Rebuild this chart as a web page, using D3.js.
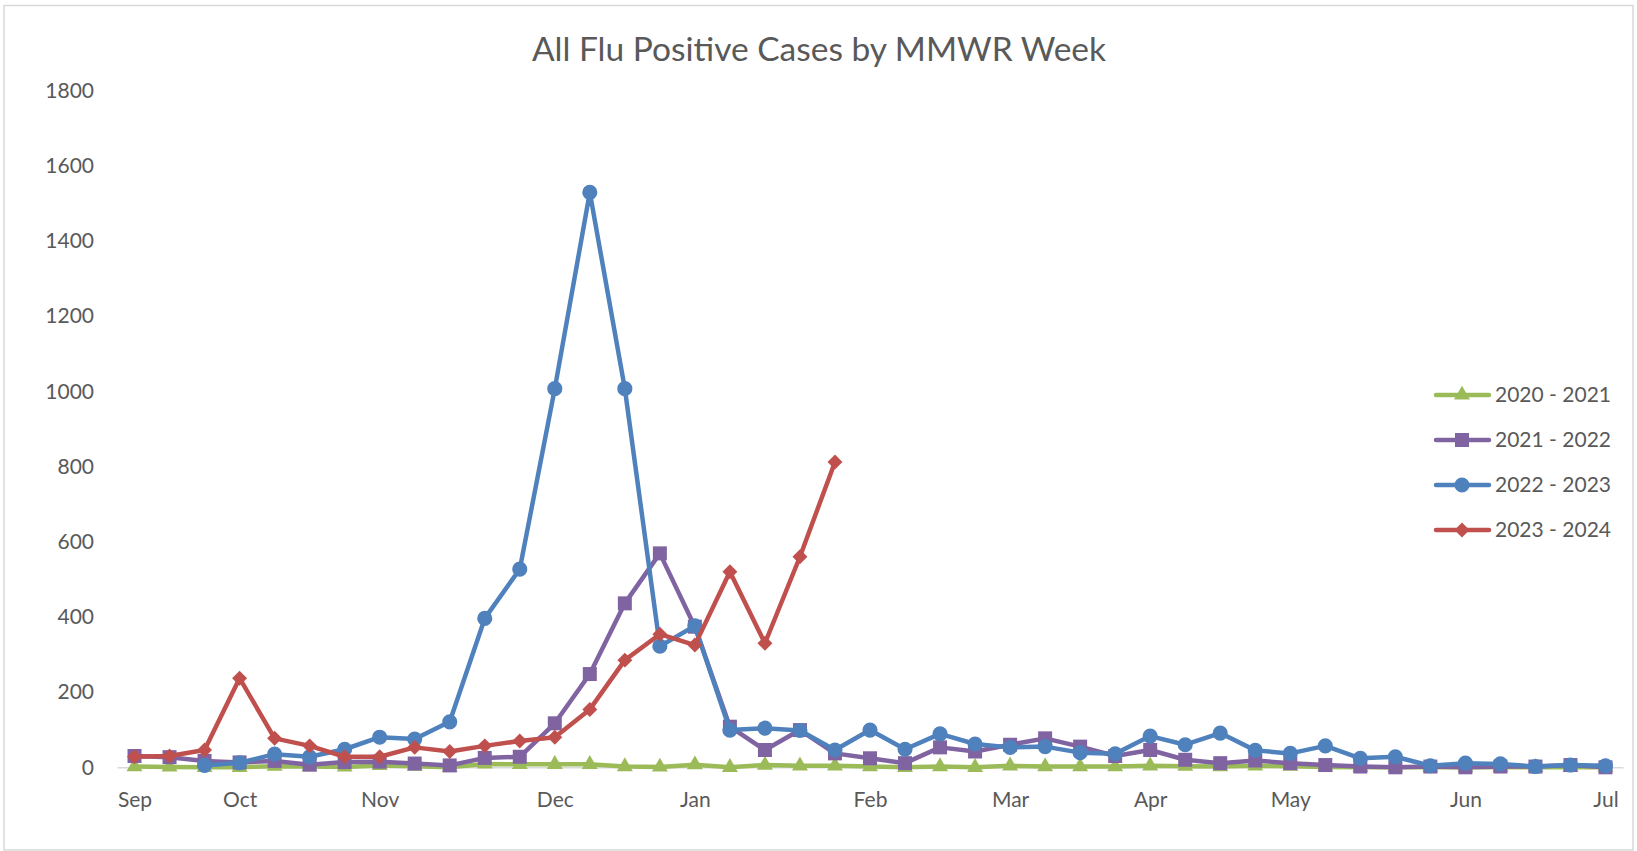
<!DOCTYPE html>
<html>
<head>
<meta charset="utf-8">
<script src="https://cdn.jsdelivr.net/npm/d3@7"></script>
<style>
    html, body { margin: 0; padding: 0; background: #fff; }
    svg { display: block; font-family: Lato, "Open Sans", sans-serif; }
</style>
</head>
<body>
<div id="chart"></div>
<script>
// 43 MMWR weeks, Sep -> Jul; only the first week of each month is labelled
const weekLabels = [
    "Sep", "", "", "Oct", "", "", "", "Nov", "", "", "", "", "Dec", "", "", "",
    "Jan", "", "", "", "", "Feb", "", "", "", "Mar", "", "", "", "Apr", "", "", "",
    "May", "", "", "", "", "Jun", "", "", "", "Jul"
];

const seasons = ["2020 - 2021", "2021 - 2022", "2022 - 2023", "2023 - 2024"];

const cases2020 = [2, 1, 0, 0, 3, 2, 1, 5, 3, 0, 9, 8, 8, 8, 2, 1, 7, 0, 6, 4, 4, 2,
    0, 2, 0, 4, 2, 2, 2, 4, 3, 2, 4, 3, 1, 0, 0, 0, 0, 0, 0, 0, 0];
const cases2021 = [30, 27, 17, 13, 17, 7, 14, 15, 10, 5, 25, 28, 117, 248, 436, 569, 374,
    108, 46, 99, 37, 24, 11, 53, 42, 60, 77, 55, 30, 46, 20, 11, 18, 11, 6, 2, 0, 2, 0, 2, 2, 6, 0];
const cases2022 = [null, null, 5, 12, 35, 28, 48, 80, 75, 121, 396, 527, 1007, 1529, 1007, 322, 376,
    99, 104, 98, 46, 99, 48, 89, 62, 53, 55, 39, 36, 83, 60, 91, 45, 37, 57, 24, 28, 4, 11, 9, 2, 6, 4];
const cases2023 = [28, 30, 46, 237, 77, 57, 28, 28, 53, 42, 57, 70, 80, 154, 285, 354, 325,
    520, 330, 560, 812];

const yTicks = [0, 200, 400, 600, 800, 1000, 1200, 1400, 1600, 1800];

const colors = ["#9bbb59", "#8064a2", "#4f81bd", "#c0504d"];

const width = 1637;
const height = 851;

const series = [
    { name: seasons[0], values: cases2020, color: colors[0], symbol: d3.symbolTriangle, size: 110, rotate: 0 },
    { name: seasons[1], values: cases2021, color: colors[1], symbol: d3.symbolSquare, size: 196, rotate: 0 },
    { name: seasons[2], values: cases2022, color: colors[2], symbol: d3.symbolCircle, size: 180, rotate: 0 },
    { name: seasons[3], values: cases2023, color: colors[3], symbol: d3.symbolSquare, size: 112, rotate: 45 }
];

const svg = d3.select("#chart")
    .append("svg")
    .attr("width", width)
    .attr("height", height);

// chart area border
svg.append("rect")
    .attr("x", 4)
    .attr("y", 5.5)
    .attr("width", 1629)
    .attr("height", 844.5)
    .attr("fill", "#fff")
    .attr("stroke", "#d9d9d9")
    .attr("stroke-width", 1.5);

svg.append("text")
    .attr("x", 819)
    .attr("y", 61)
    .attr("text-anchor", "middle")
    .attr("fill", "#595959")
    .style("font-size", "33.5px")
    .text("All Flu Positive Cases by MMWR Week");

const x = d3.scalePoint()
    .domain(d3.range(weekLabels.length))
    .range([117, 1623])
    .padding(0.5);

const y = d3.scaleLinear()
    .domain([0, 1800])
    .range([767.3, 90.5]);

// y axis labels
const yAxis = svg.append("g")
    .attr("transform", "translate(117,0)")
    .call(d3.axisLeft(y).tickValues(yTicks).tickFormat(d3.format("d")).tickSize(0).tickPadding(23));
yAxis.select(".domain").remove();
yAxis.selectAll("text")
    .attr("fill", "#595959")
    .style("font-size", "21px")
    .style("font-family", "Lato, sans-serif");

// x axis (baseline + month labels)
const xAxis = svg.append("g")
    .attr("transform", "translate(0," + y(0) + ")")
    .call(d3.axisBottom(x)
        .tickFormat(i => weekLabels[i])
        .tickSize(0)
        .tickSizeOuter(0)
        .tickPadding(25));
xAxis.select(".domain")
    .attr("stroke", "#d9d9d9")
    .attr("stroke-width", 1.5);
xAxis.selectAll("text")
    .attr("fill", "#595959")
    .style("font-size", "21px")
    .style("font-family", "Lato, sans-serif");

const line = d3.line()
    .defined(d => d != null)
    .x((d, i) => x(i))
    .y(d => y(d));

series.forEach(s => {
    const g = svg.append("g");
    g.append("path")
        .datum(s.values)
        .attr("fill", "none")
        .attr("stroke", s.color)
        .attr("stroke-width", 4.5)
        .attr("stroke-linejoin", "round")
        .attr("stroke-linecap", "round")
        .attr("d", line);

    const pts = s.values.map((v, i) => ({ v: v, i: i })).filter(d => d.v != null);
    g.selectAll("path.marker")
        .data(pts)
        .enter().append("path")
        .attr("class", "marker")
        .attr("fill", s.color)
        .attr("transform", d => "translate(" + x(d.i) + "," + y(d.v) + ") rotate(" + s.rotate + ")")
        .attr("d", d3.symbol().type(s.symbol).size(s.size));
});

// legend
const legend = svg.append("g");
series.forEach((s, k) => {
    const ly = 395 + k * 45;
    const item = legend.append("g").attr("transform", "translate(0," + ly + ")");
    item.append("line")
        .attr("x1", 1436)
        .attr("x2", 1489)
        .attr("stroke", s.color)
        .attr("stroke-width", 4.5)
        .attr("stroke-linecap", "round");
    item.append("path")
        .attr("fill", s.color)
        .attr("transform", "translate(1462,0) rotate(" + s.rotate + ")")
        .attr("d", d3.symbol().type(s.symbol).size(s.size));
    item.append("text")
        .attr("x", 1495)
        .attr("dy", "0.35em")
        .attr("fill", "#595959")
        .style("font-size", "21px")
        .text(s.name);
});
</script>
</body>
</html>
